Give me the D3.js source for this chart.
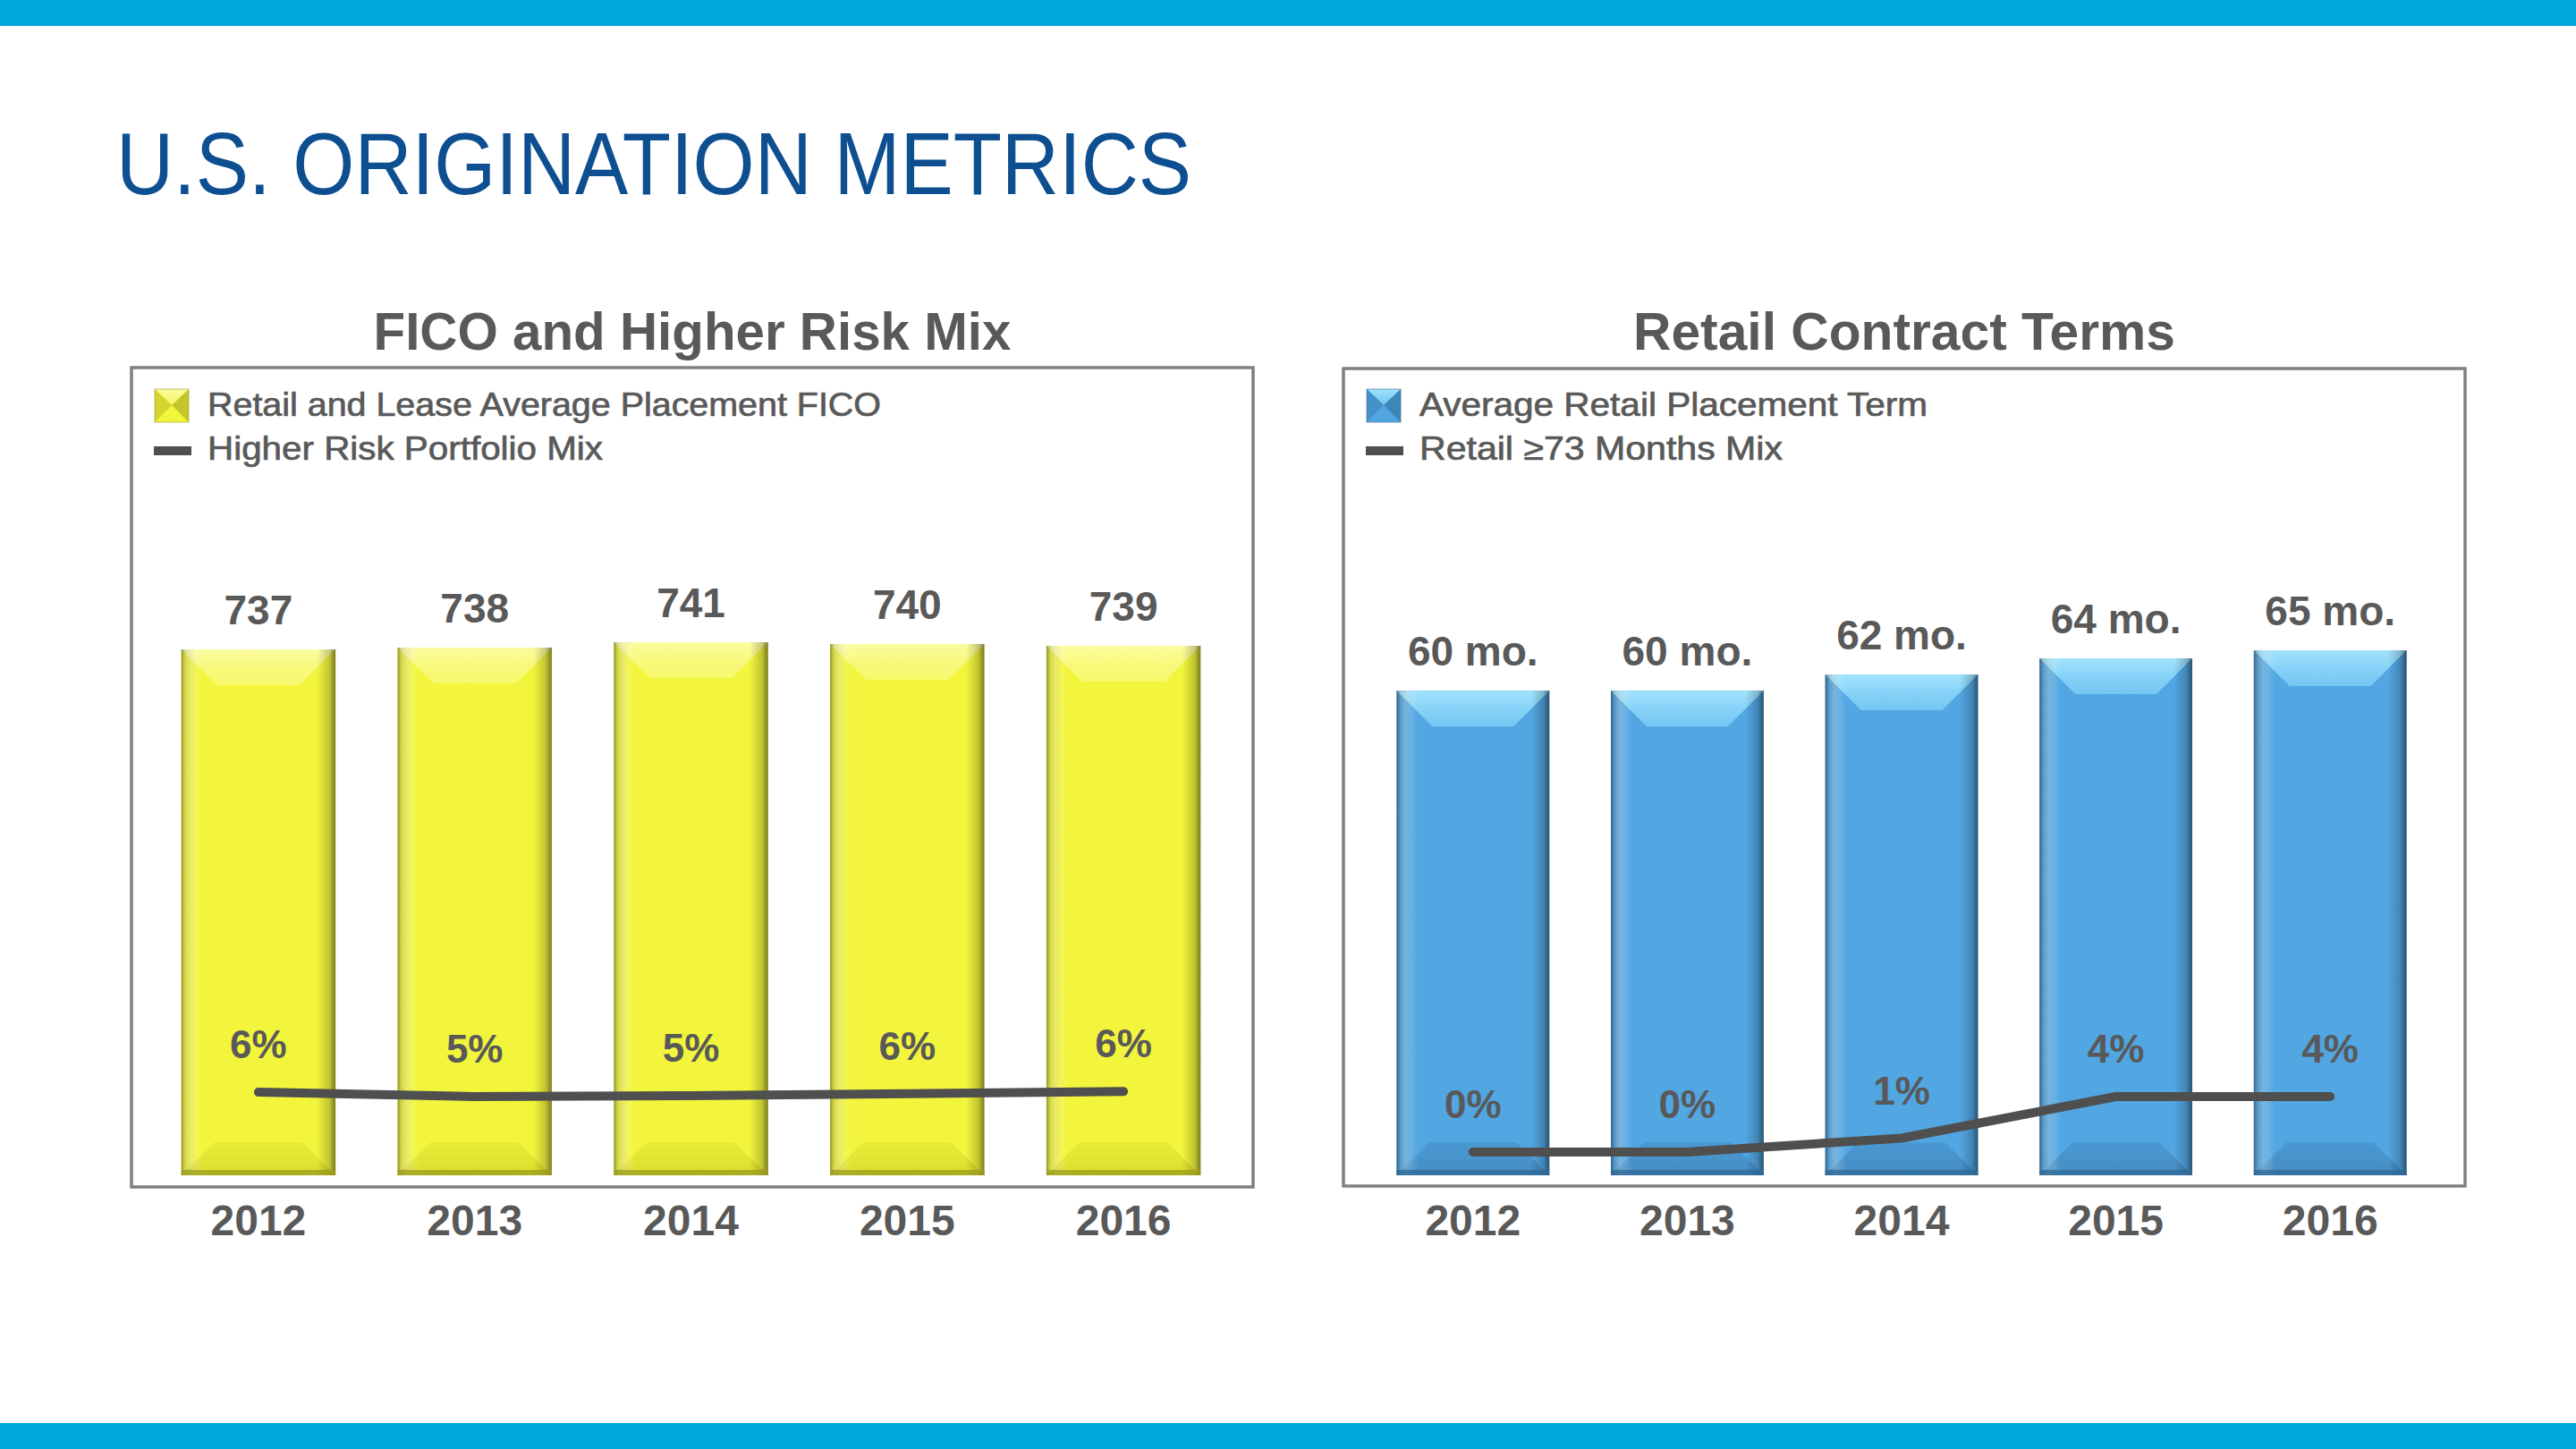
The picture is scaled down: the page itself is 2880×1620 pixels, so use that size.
<!DOCTYPE html>
<html lang="en">
<head>
    <meta charset="UTF-8">
    <title>U.S. Origination Metrics</title>
    <script src="https://d3js.org/d3.v7.min.js"></script>
    <style>
        body { margin: 0; background: #fff; }
        text { font-family: "Liberation Sans", Arial, sans-serif; }
    </style>
</head>
<body>
    <script>
        // chart data
        var years = ["2012", "2013", "2014", "2015", "2016"];
        var ficoScores = [737, 738, 741, 740, 739];
        var higherRiskMix = [5.6, 5.4, 5.44, 5.53, 5.63];   // % (labels rounded)
        var placementTerms = [60, 60, 62, 64, 65];          // months
        var longTermMix = [0, 0, 1, 4, 4];                  // %

        var width = 2880, height = 1620;
        var textGrey = "#595959", lineGrey = "#4f4f4f";

        var svg = d3.select("body").append("svg")
            .attr("width", width)
            .attr("height", height);

        var defs = svg.append("defs");

        // gradients for the bevelled bars
        function vGrad(id, stops) {
            var g = defs.append("linearGradient").attr("id", id)
                .attr("x1", 0).attr("y1", 0).attr("x2", 0).attr("y2", 1);
            stops.forEach(function(s) {
                g.append("stop").attr("offset", s[0]).attr("stop-color", s[1]);
            });
        }
        function hGrad(id, stops) {
            var g = defs.append("linearGradient").attr("id", id)
                .attr("x1", 0).attr("y1", 0).attr("x2", 1).attr("y2", 0);
            stops.forEach(function(s) {
                g.append("stop").attr("offset", s[0]).attr("stop-color", s[1]).attr("stop-opacity", s[2]);
            });
        }
        vGrad("yTop", [[0, "#fbfca0"], [0.5, "#f8f97c"], [1, "#f6f86c"]]);
        vGrad("yBot", [[0, "#e9eb38"], [1, "#dcde2e"]]);
        vGrad("bTop", [[0, "#a2e3fc"], [0.5, "#86d2f8"], [1, "#76c6f2"]]);
        vGrad("bBot", [[0, "#4a99d2"], [1, "#468dc3"]]);
        hGrad("edges", [[0, "#000", 0.4], [0.025, "#000", 0.14], [0.1, "#000", 0], [0.88, "#000", 0], [0.96, "#000", 0.2], [1, "#000", 0.5]]);
        hGrad("edgesLight", [[0, "#fff", 0], [0.06, "#fff", 0.25], [0.14, "#fff", 0], [1, "#fff", 0]]);

        // top and bottom stripes
        svg.append("rect").attr("x", 0).attr("y", 0).attr("width", width).attr("height", 29).attr("fill", "#00a8e0");
        svg.append("rect").attr("x", 0).attr("y", 1591).attr("width", width).attr("height", 29).attr("fill", "#00a8e0");

        svg.append("text")
            .attr("x", 130).attr("y", 217)
            .attr("font-size", 98)
            .attr("fill", "#0d4f91")
            .attr("textLength", 1202)
            .attr("lengthAdjust", "spacingAndGlyphs")
            .text("U.S. ORIGINATION METRICS");

        var panels = [
            {
                title: "FICO and Higher Risk Mix", titleLen: 713,
                box: { x: 147, y: 411, w: 1254, h: 916 },
                bandRange: [168, 1377],
                bars: ficoScores, barDomain: [443, 743], barRange: [1314, 714],
                barLabel: function(d) { return d; },
                line: higherRiskMix, lineDomain: [5, 6], lineRange: [1236, 1211],
                legend: ["Retail and Lease Average Placement FICO", "Higher Risk Portfolio Mix"],
                legendLen: [753, 442],
                main: "#f2f53c", top: "url(#yTop)", bot: "url(#yBot)", dark: "#9c9c1c", side: "#d4d62e"
            },
            {
                title: "Retail Contract Terms", titleLen: 606,
                box: { x: 1502, y: 412, w: 1254, h: 914 },
                bandRange: [1527, 2725],
                bars: placementTerms, barDomain: [0, 65], barRange: [1314, 727],
                barLabel: function(d) { return d + " mo."; },
                line: longTermMix, lineDomain: [0, 4], lineRange: [1288, 1226],
                legend: ["Average Retail Placement Term", "Retail \u226573 Months Mix"],
                legendLen: [568, 406],
                main: "#52a6e2", top: "url(#bTop)", bot: "url(#bBot)", dark: "#2e6a98", side: "#4690c8"
            }
        ];

        panels.forEach(function(p) {
            var g = svg.append("g");
            var b = p.box;

            g.append("text")
                .attr("x", b.x + b.w / 2).attr("y", 391)
                .attr("text-anchor", "middle")
                .attr("font-size", 60).attr("font-weight", "bold")
                .attr("fill", textGrey)
                .attr("textLength", p.titleLen).attr("lengthAdjust", "spacingAndGlyphs")
                .text(p.title);

            g.append("rect")
                .attr("x", b.x).attr("y", b.y).attr("width", b.w).attr("height", b.h)
                .attr("fill", "none").attr("stroke", "#808080").attr("stroke-width", 3.5);

            var x = d3.scaleBand().domain(years).range(p.bandRange)
                .paddingInner(0.287).paddingOuter(0.1435);
            var y = d3.scaleLinear().domain(p.barDomain).range(p.barRange);
            var y2 = d3.scaleLinear().domain(p.lineDomain).range(p.lineRange);
            var bw = x.bandwidth();
            var base = y.range()[0];
            var bevel = 40;

            var bar = g.selectAll(".bar").data(p.bars).enter().append("g")
                .attr("transform", function(d, i) { return "translate(" + x(years[i]) + ",0)"; });

            bar.append("rect")
                .attr("y", function(d) { return y(d); })
                .attr("width", bw)
                .attr("height", function(d) { return base - y(d); })
                .attr("fill", p.main);
            // top bevel
            bar.append("polygon")
                .attr("points", function(d) {
                    var t = y(d);
                    return [[0, t], [bw, t], [bw - bevel, t + bevel], [bevel, t + bevel]].join(" ");
                })
                .attr("fill", p.top);
            // bottom bevel
            bar.append("polygon")
                .attr("points", [[0, base], [bw, base], [bw - bevel + 3, base - 37], [bevel - 3, base - 37]].join(" "))
                .attr("fill", p.bot);
            // side shading
            bar.append("rect")
                .attr("y", function(d) { return y(d); })
                .attr("width", bw)
                .attr("height", function(d) { return base - y(d); })
                .attr("fill", "url(#edges)");
            bar.append("rect")
                .attr("y", function(d) { return y(d); })
                .attr("width", bw)
                .attr("height", function(d) { return base - y(d); })
                .attr("fill", "url(#edgesLight)");
            bar.append("rect")
                .attr("y", base - 6).attr("width", bw).attr("height", 6)
                .attr("fill", p.dark).attr("opacity", 0.75);

            // bar value labels
            g.selectAll(".barLabel").data(p.bars).enter().append("text")
                .attr("x", function(d, i) { return x(years[i]) + bw / 2; })
                .attr("y", function(d) { return y(d) - 28; })
                .attr("text-anchor", "middle")
                .attr("font-size", 46).attr("font-weight", "bold")
                .attr("fill", textGrey)
                .text(p.barLabel);

            // mix line
            var line = d3.line()
                .x(function(d, i) { return x(years[i]) + bw / 2; })
                .y(function(d) { return y2(d); });
            g.append("path")
                .datum(p.line)
                .attr("d", line)
                .attr("fill", "none")
                .attr("stroke", lineGrey)
                .attr("stroke-width", 10)
                .attr("stroke-linecap", "round")
                .attr("stroke-linejoin", "round");

            g.selectAll(".lineLabel").data(p.line).enter().append("text")
                .attr("x", function(d, i) { return x(years[i]) + bw / 2; })
                .attr("y", function(d) { return y2(d) - 38; })
                .attr("text-anchor", "middle")
                .attr("font-size", 44).attr("font-weight", "bold")
                .attr("fill", textGrey)
                .text(function(d) { return Math.round(d) + "%"; });

            // category axis (labels only)
            var axis = g.append("g")
                .attr("transform", "translate(0," + 1381 + ")")
                .call(d3.axisBottom(x).tickSize(0).tickPadding(0));
            axis.select(".domain").remove();
            axis.selectAll("text")
                .attr("dy", 0)
                .attr("font-size", 48).attr("font-weight", "bold")
                .attr("font-family", "Liberation Sans, Arial, sans-serif")
                .attr("fill", textGrey);

            // legend
            var lx = b.x + 26;
            var sw = g.append("g").attr("transform", "translate(" + lx + ",435)");
            sw.append("rect").attr("width", 38).attr("height", 37).attr("fill", p.main);
            sw.append("polygon").attr("points", "0,0 38,0 19,18").attr("fill", p.top);
            sw.append("polygon").attr("points", "0,0 0,37 19,18").attr("fill", p.side);
            sw.append("polygon").attr("points", "38,0 38,37 19,18").attr("fill", p.dark).attr("opacity", 0.55);
            sw.append("rect").attr("width", 38).attr("height", 37).attr("fill", "none")
                .attr("stroke", p.dark).attr("stroke-width", 1).attr("opacity", 0.6);

            g.append("rect")
                .attr("x", lx - 1).attr("y", 499).attr("width", 42).attr("height", 10)
                .attr("fill", lineGrey);

            g.selectAll(".legendText").data(p.legend).enter().append("text")
                .attr("x", b.x + 85)
                .attr("y", function(d, i) { return 465 + i * 49; })
                .attr("font-size", 37)
                .attr("fill", textGrey)
                .attr("stroke", textGrey).attr("stroke-width", 0.7)
                .attr("textLength", function(d, i) { return p.legendLen[i]; })
                .attr("lengthAdjust", "spacingAndGlyphs")
                .text(function(d) { return d; });
        });
    </script>
</body>
</html>
